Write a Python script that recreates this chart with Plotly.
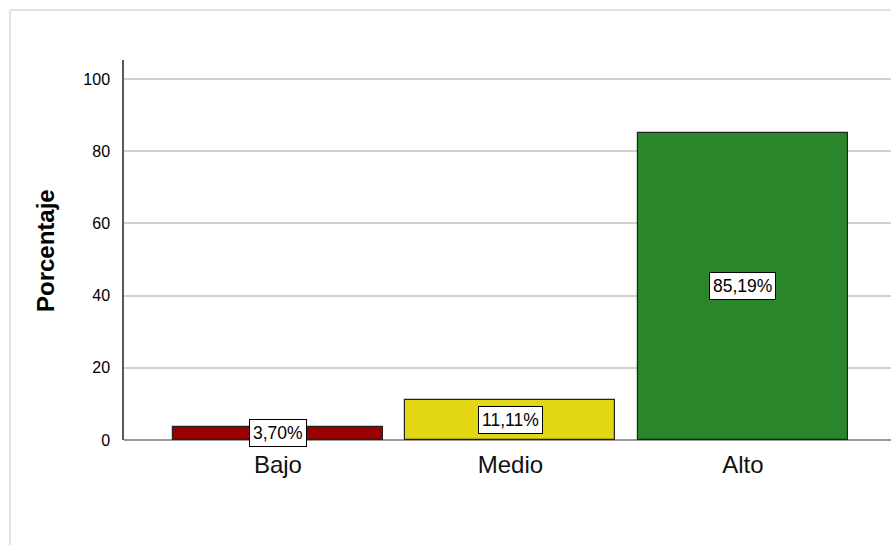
import plotly.graph_objects as go

categories = ["Bajo", "Medio", "Alto"]
values = [3.70, 11.11, 85.19]
labels = ["3,70%", "11,11%", "85,19%"]
colors = ["#990000", "#e3d714", "#2a862a"]
y_ticks = [0, 20, 40, 60, 80, 100]

W, H = 891, 545
L, R, T, B = 124, 891, 60, 440
FONT = "Liberation Sans, Arial"

fig = go.Figure()
fig.add_trace(go.Bar(
    x=list(range(len(categories))), y=values,
    width=0.903,
    marker=dict(color=colors, line=dict(color="#222222", width=1.2)),
    hoverinfo="skip",
))

for i, (v, lab) in enumerate(zip(values, labels)):
    fig.add_annotation(
        x=i, y=v / 2, text=lab, showarrow=False,
        font=dict(family=FONT, size=17.5, color="#000000"),
        bgcolor="#ffffff", bordercolor="#000000", borderwidth=1, borderpad=3,
        xref="x", yref="y", xanchor="center", yanchor="middle",
    )

# outer chart frame
pw, ph = R - L, B - T
fig.add_shape(type="rect", xref="paper", yref="paper",
              x0=(10 - L) / pw, x1=(905 - L) / pw,
              y0=(B - 560) / ph, y1=(B - 10) / ph,
              line=dict(color="#c8c8c8", width=1), fillcolor="rgba(0,0,0,0)", layer="below")

fig.add_annotation(
    x=(45 - L) / pw, y=(B - 251) / ph, xref="paper", yref="paper",
    xanchor="center", yanchor="middle",
    text="<b>Porcentaje</b>", textangle=-90, showarrow=False,
    font=dict(family=FONT, size=24, color="#000000"),
)

fig.update_layout(
    width=W, height=H,
    margin=dict(l=L, r=W - R, t=T, b=H - B, pad=0),
    paper_bgcolor="#ffffff", plot_bgcolor="#ffffff",
    showlegend=False,
    bargap=0,
    xaxis=dict(
        range=[-0.662, (R - L) / 232.5 - 0.662],
        tickvals=list(range(len(categories))), ticktext=categories,
        tickfont=dict(family=FONT, size=24, color="#111111"),
        showgrid=False, zeroline=False, showline=False, ticks="",
        ticklabelstandoff=8,
        fixedrange=True,
    ),
    yaxis=dict(
        range=[0, 105.3],
        tickvals=y_ticks,
        tickfont=dict(family=FONT, size=16, color="#000000"),
        showgrid=True, gridcolor="#d0d0d0", gridwidth=1.5,
        zeroline=True, zerolinecolor="#9a9a9a", zerolinewidth=1.5,
        showline=True, linecolor="#5a5a5a", linewidth=1.5,
        ticks="", ticklabelstandoff=9,
        fixedrange=True,
    ),
)

fig.write_html("out.html")
